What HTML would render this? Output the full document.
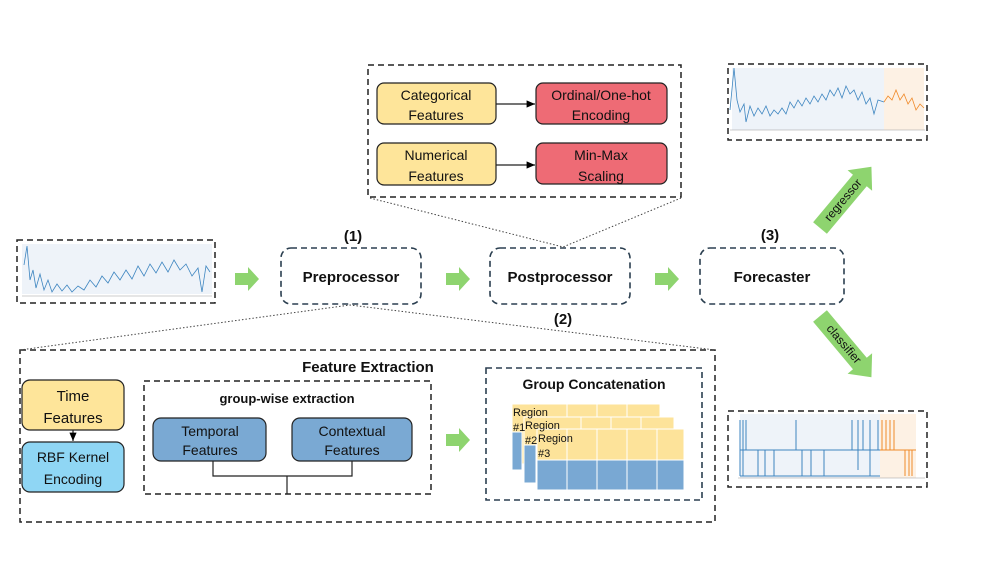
<!DOCTYPE html>
<html><head><meta charset="utf-8"><style>
body{margin:0;background:#fff}
svg{display:block;font-family:"Liberation Sans",sans-serif}
</style></head><body>
<svg width="996" height="561" viewBox="0 0 996 561" xmlns="http://www.w3.org/2000/svg">
<defs>
<marker id="ah" markerWidth="8" markerHeight="8" refX="7" refY="4" orient="auto"><path d="M0,1 L7,4 L0,7z" fill="#000"/></marker>
</defs>
<g stroke="#222" stroke-width="1.5" stroke-dasharray="6,4" fill="none">
<rect x="368" y="65" width="313" height="132"/>
<rect x="17" y="240" width="198" height="63"/>
<rect x="728" y="64" width="199" height="76"/>
<rect x="728" y="411" width="199" height="76"/>
<rect x="20" y="350" width="695" height="172"/>
<rect x="144" y="381" width="287" height="113"/>
</g>
<g stroke="#2b3f50" stroke-width="1.6" stroke-dasharray="6,4" fill="none">
<rect x="281" y="248" width="140" height="56" rx="10"/>
<rect x="490" y="248" width="140" height="56" rx="10"/>
<rect x="700" y="248" width="144" height="56" rx="10"/>
<rect x="486" y="368" width="216" height="132"/>
</g>
<g stroke="#444" stroke-width="1" stroke-dasharray="1.5,2" fill="none">
<path d="M370 198 L563 247 L681 198"/>
<path d="M20 350 L350 305 L715 350"/>
</g>
<g stroke="#222" stroke-width="1.2">
<rect x="377" y="83" width="119" height="41" rx="7" fill="#fee59a"/>
<rect x="536" y="83" width="131" height="41" rx="7" fill="#ee6b75"/>
<rect x="377" y="143" width="119" height="42" rx="7" fill="#fee59a"/>
<rect x="536" y="143" width="131" height="41" rx="7" fill="#ee6b75"/>
<line x1="496" y1="104" x2="535" y2="104" marker-end="url(#ah)"/>
<line x1="496" y1="165" x2="535" y2="165" marker-end="url(#ah)"/>
</g>
<g font-size="14" fill="#111" text-anchor="middle">
<text x="436" y="100">Categorical</text><text x="436" y="120">Features</text>
<text x="601" y="100">Ordinal/One-hot</text><text x="601" y="120">Encoding</text>
<text x="436" y="160">Numerical</text><text x="436" y="181">Features</text>
<text x="601" y="160">Min-Max</text><text x="601" y="181">Scaling</text>
</g>
<g font-size="15" font-weight="bold" fill="#111" text-anchor="middle">
<text x="351" y="282">Preprocessor</text>
<text x="560" y="282">Postprocessor</text>
<text x="772" y="282">Forecaster</text>
<text x="353" y="241">(1)</text>
<text x="770" y="240">(3)</text>
<text x="563" y="324">(2)</text>
<text x="368" y="372">Feature Extraction</text>
<text x="594" y="389" font-size="14">Group Concatenation</text>
<text x="287" y="403" font-size="13">group-wise extraction</text>
</g>
<g fill="#8ed46f">
<path d="M235 273 H248 V267 L259 279 L248 291 V285 H235z"/>
<path d="M446 273 H459 V267 L470 279 L459 291 V285 H446z"/>
<path d="M655 273 H668 V267 L679 279 L668 291 V285 H655z"/>
<path d="M446 434 H459 V428 L470 440 L459 452 V446 H446z"/>
<g transform="translate(820,228) rotate(-50)"><path d="M0 -9 H62 V-16 L80 0 L62 16 V9 H0z"/></g>
<g transform="translate(820,316) rotate(50)"><path d="M0 -9 H62 V-16 L80 0 L62 16 V9 H0z"/></g>
</g>
<text transform="translate(843,200) rotate(-50)" font-size="12" text-anchor="middle" dy="4" fill="#111">regressor</text>
<text transform="translate(844,344) rotate(50)" font-size="12" text-anchor="middle" dy="4" fill="#111">classifier</text>
<g stroke="#222" stroke-width="1.2">
<rect x="22" y="380" width="102" height="50" rx="8" fill="#fee59a"/>
<rect x="22" y="442" width="102" height="50" rx="8" fill="#8fd6f4"/>
<line x1="73" y1="430" x2="73" y2="441" marker-end="url(#ah)"/>
<rect x="153" y="418" width="113" height="43" rx="8" fill="#7aa9d3"/>
<rect x="292" y="418" width="120" height="43" rx="8" fill="#7aa9d3"/>
<path d="M213 461 V476 H352 V461 M287 476 V494" fill="none"/>
</g>
<g font-size="14" fill="#111" text-anchor="middle">
<text x="73" y="401" font-size="15">Time</text><text x="73" y="423" font-size="15">Features</text>
<text x="73" y="462">RBF Kernel</text><text x="73" y="484">Encoding</text>
<text x="210" y="436">Temporal</text><text x="210" y="455">Features</text>
<text x="352" y="436">Contextual</text><text x="352" y="455">Features</text>
</g>
<g stroke="#fff" stroke-width="1">
<rect x="512" y="404" width="148" height="60" fill="#fde39a"/>
<rect x="512" y="432" width="10" height="38" fill="#79a8d3"/>
<rect x="524" y="417" width="150" height="60" fill="#fde39a"/>
<rect x="524" y="445" width="12" height="38" fill="#79a8d3"/>
<rect x="537" y="429" width="147" height="31" fill="#fde39a"/>
<rect x="537" y="460" width="147" height="30" fill="#79a8d3"/>
<path d="M567 404 V417 M597 404 V417 M627 404 V417 M581 417 V429 M611 417 V429 M641 417 V429 M567 429 V490 M597 429 V490 M627 429 V490 M657 429 V490" fill="none"/>
</g>
<g font-size="11" fill="#111">
<text x="513" y="416">Region</text><text x="513" y="431">#1</text>
<text x="525" y="429">Region</text><text x="525" y="444">#2</text>
<text x="538" y="442">Region</text><text x="538" y="457">#3</text>
</g>
<rect x="22" y="244" width="190" height="50" fill="#eef3f9"/>
<polyline fill="none" stroke="#3d85c0" stroke-width="0.8" points="24,265 27,246 30,280 33,270 36,288 40,274 44,290 48,280 52,292 57,284 62,291 67,285 72,292 78,286 84,290 90,280 96,287 102,276 108,283 114,272 120,280 126,270 132,279 138,266 144,276 150,264 156,273 162,262 168,272 174,260 180,270 186,264 192,276 198,268 202,292 206,266 210,272"/>
<line x1="22" y1="296" x2="212" y2="296" stroke="#999" stroke-width="0.6"/>
<rect x="732" y="68" width="152" height="62" fill="#eef3f9"/>
<rect x="884" y="68" width="40" height="62" fill="#fdf1e4"/>
<polyline fill="none" stroke="#3d85c0" stroke-width="0.8" points="730,110 734,68 737,100 740,112 744,104 746,122 750,106 754,116 758,108 762,114 766,106 770,116 774,110 778,114 782,108 786,114 790,102 794,108 798,100 802,106 806,98 810,104 814,96 818,102 822,94 826,100 830,90 834,96 838,88 842,98 846,86 850,94 854,90 858,100 862,92 866,104 870,98 874,114 878,100 884,102"/>
<polyline fill="none" stroke="#f08a2a" stroke-width="0.8" points="884,102 888,96 892,100 896,90 900,100 904,94 908,104 912,98 916,110 920,104 924,108"/>
<line x1="730" y1="130" x2="925" y2="130" stroke="#999" stroke-width="0.6"/>
<rect x="740" y="414" width="140" height="64" fill="#eef3f9"/>
<rect x="880" y="414" width="36" height="64" fill="#fdf1e4"/>
<g stroke="#3d85c0" stroke-width="1">
<path d="M740 420 V476 M743 420 V476 M746 420 V450 M758 450 V476 M765 450 V476 M774 450 V476 M796 420 V450 M802 450 V476 M811 450 V476 M824 450 V476 M852 420 V450 M858 420 V470 M863 420 V450 M870 420 V476 M878 420 V450 M740 450 H880 M740 476 H880"/>
</g>
<g stroke="#f08a2a" stroke-width="1">
<path d="M882 420 V450 M886 420 V450 M890 420 V450 M894 420 V450 M905 450 V476 M909 450 V476 M912 450 V476 M880 450 H916"/>
</g>
<line x1="738" y1="478" x2="925" y2="478" stroke="#999" stroke-width="0.6"/>
</svg>
</body></html>
